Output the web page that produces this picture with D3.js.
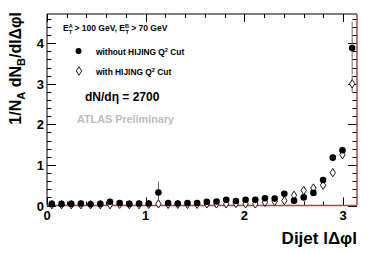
<!DOCTYPE html>
<html>
<head>
<meta charset="utf-8">
<script src="https://cdn.jsdelivr.net/npm/d3@7"></script>
<style>
    body { margin: 0; background: #fff; }
    text { font-family: "Liberation Sans", Arial, Helvetica, sans-serif; font-weight: bold; }
</style>
</head>
<body>
<script>
(function() {
    "use strict";

    //32 bins in |dphi| from 0 to pi
    var NBINS = 32;
    var binCenters = d3.range(NBINS).map(function(i) { return (i + 0.5) * Math.PI / NBINS; });

    //without HIJING Q2 cut (filled circles)
    var withoutCut = [0.04, 0.04, 0.04, 0.05, 0.03, 0.04, 0.09, 0.06, 0.04, 0.05, 0.05, 0.32,
                      0.06, 0.05, 0.06, 0.06, 0.09, 0.10, 0.14, 0.11, 0.14, 0.14, 0.18, 0.17,
                      0.29, 0.12, 0.20, 0.31, 0.63, 1.18, 1.36, 3.88];
    var withoutCutErr = [0.02, 0.02, 0.02, 0.02, 0.02, 0.02, 0.03, 0.02, 0.02, 0.02, 0.02, 0.27,
                         0.02, 0.02, 0.02, 0.02, 0.02, 0.02, 0.03, 0.02, 0.03, 0.03, 0.03, 0.03,
                         0.04, 0.03, 0.04, 0.05, 0.06, 0.08, 0.09, 0.65];

    //with HIJING Q2 cut (open diamonds)
    var withCut = [0.02, 0.02, 0.02, 0.02, 0.02, 0.02, 0.02, 0.03, 0.02, 0.02, 0.03, 0.04,
                   0.03, 0.03, 0.03, 0.03, 0.04, 0.04, 0.04, 0.05, 0.04, 0.04, 0.08, 0.10,
                   0.12, 0.25, 0.37, 0.43, 0.50, 0.81, 1.25, 3.00];
    var withCutErr = [0.01, 0.01, 0.01, 0.01, 0.01, 0.01, 0.01, 0.01, 0.01, 0.01, 0.01, 0.02,
                      0.01, 0.01, 0.01, 0.01, 0.02, 0.02, 0.02, 0.02, 0.02, 0.02, 0.02, 0.03,
                      0.03, 0.04, 0.04, 0.05, 0.05, 0.06, 0.08, 0.20];

    var xTickLabels = [0, 1, 2, 3];
    var yTickLabels = [0, 1, 2, 3, 4];

    var WIDTH = 374, HEIGHT = 253;
    var FRAME_COLOR = "#9a4f4a";

    //plot frame in pixels
    var left = 47, right = 357, top = 14, bottom = 205.5;

    var x = d3.scaleLinear().domain([0, Math.PI]).range([left, right]);
    var y = d3.scaleLinear().domain([0, 4.72]).range([bottom, top]);

    var svg = d3.select("body").append("svg")
        .attr("width", WIDTH)
        .attr("height", HEIGHT);

    //ticks pointing inward on all four sides, ROOT style
    var xMinor = d3.range(0, 3.15, 0.2);
    var yMinor = d3.range(0, 4.7, 0.2);

    var ticks = svg.append("g").attr("stroke", "#000").attr("stroke-width", 1);
    xMinor.forEach(function(v) {
        var major = Math.abs(v - Math.round(v)) < 1e-6;
        var len = major ? 8 : 4;
        var px = Math.round(x(v)) + 0.5;
        ticks.append("line").attr("x1", px).attr("x2", px).attr("y1", bottom).attr("y2", bottom - len);
        ticks.append("line").attr("x1", px).attr("x2", px).attr("y1", top).attr("y2", top + len);
    });
    yMinor.forEach(function(v) {
        var major = Math.abs(v - Math.round(v)) < 1e-6;
        var len = major ? 9 : 4.5;
        var py = Math.round(y(v)) + 0.5;
        ticks.append("line").attr("x1", left).attr("x2", left + len).attr("y1", py).attr("y2", py);
        ticks.append("line").attr("x1", right).attr("x2", right - len).attr("y1", py).attr("y2", py);
    });

    //frame lines
    svg.append("line").attr("x1", left).attr("x2", left).attr("y1", top).attr("y2", bottom)
        .attr("stroke", "#000");
    svg.append("line").attr("x1", left).attr("x2", right).attr("y1", top).attr("y2", top)
        .attr("stroke", "#000");
    svg.append("line").attr("x1", right).attr("x2", right).attr("y1", top).attr("y2", bottom)
        .attr("stroke", FRAME_COLOR).attr("stroke-width", 1.5);
    svg.append("line").attr("x1", left).attr("x2", right).attr("y1", bottom).attr("y2", bottom)
        .attr("stroke", FRAME_COLOR).attr("stroke-width", 1.5);

    //tick labels
    svg.selectAll("text.xlab")
        .data(xTickLabels)
        .enter()
        .append("text")
        .attr("class", "xlab")
        .attr("x", function(d) { return x(d); })
        .attr("y", bottom + 14)
        .attr("text-anchor", "middle")
        .attr("font-size", 13)
        .text(function(d) { return d; });

    svg.selectAll("text.ylab")
        .data(yTickLabels)
        .enter()
        .append("text")
        .attr("class", "ylab")
        .attr("x", left - 3)
        .attr("y", function(d) { return y(d) + 5; })
        .attr("text-anchor", "end")
        .attr("font-size", 13)
        .text(function(d) { return d; });

    //axis titles
    var xTitle = svg.append("text")
        .attr("x", right)
        .attr("y", 244)
        .attr("text-anchor", "end")
        .attr("font-size", 17);
    xTitle.append("tspan").text("Dijet l\u0394\u03c6l");

    var yTitle = svg.append("text")
        .attr("transform", "translate(21," + (top - 2) + ") rotate(-90)")
        .attr("text-anchor", "end")
        .attr("font-size", 16);
    yTitle.append("tspan").text("1/N");
    yTitle.append("tspan").attr("font-size", 11).attr("dy", 4).text("A");
    yTitle.append("tspan").attr("dy", -4).text(" dN");
    yTitle.append("tspan").attr("font-size", 11).attr("dy", 4).text("B");
    yTitle.append("tspan").attr("dy", -4).text("/dl\u0394\u03c6l");

    //error bars
    function drawErrors(values, errors, cls) {
        svg.selectAll("line." + cls)
            .data(values)
            .enter()
            .append("line")
            .attr("class", cls)
            .attr("x1", function(d, i) { return x(binCenters[i]); })
            .attr("x2", function(d, i) { return x(binCenters[i]); })
            .attr("y1", function(d, i) { return y(d + errors[i]); })
            .attr("y2", function(d, i) { return y(Math.max(0, d - errors[i])); })
            .attr("stroke", "#666")
            .attr("stroke-width", 1);
    }
    drawErrors(withCut, withCutErr, "errWith");
    drawErrors(withoutCut, withoutCutErr, "errWithout");

    //open diamonds
    var diamond = "M0,-4.2L2.7,0L0,4.2L-2.7,0Z";
    svg.selectAll("path.withCut")
        .data(withCut)
        .enter()
        .append("path")
        .attr("class", "withCut")
        .attr("d", diamond)
        .attr("transform", function(d, i) { return "translate(" + x(binCenters[i]) + "," + y(d) + ")"; })
        .attr("fill", "#fff")
        .attr("stroke", "#000")
        .attr("stroke-width", 0.9);

    //filled circles
    svg.selectAll("circle.withoutCut")
        .data(withoutCut)
        .enter()
        .append("circle")
        .attr("class", "withoutCut")
        .attr("cx", function(d, i) { return x(binCenters[i]); })
        .attr("cy", function(d) { return y(d); })
        .attr("r", 3.3)
        .attr("fill", "#000");

    //legend and labels
    var cuts = svg.append("text").attr("x", 63).attr("y", 31).attr("font-size", 8.5);
    cuts.append("tspan").text("E");
    cuts.append("tspan").attr("font-size", 5.5).attr("dy", -3.5).text("A");
    cuts.append("tspan").attr("font-size", 5.5).attr("dx", -3.5).attr("dy", 6).text("T");
    cuts.append("tspan").attr("dy", -2.5).text(" > 100 GeV, E");
    cuts.append("tspan").attr("font-size", 5.5).attr("dy", -3.5).text("B");
    cuts.append("tspan").attr("font-size", 5.5).attr("dx", -3.5).attr("dy", 6).text("T");
    cuts.append("tspan").attr("dy", -2.5).text(" > 70 GeV");

    svg.append("circle").attr("cx", 78.5).attr("cy", 51).attr("r", 3).attr("fill", "#000");
    var l1 = svg.append("text").attr("x", 96).attr("y", 55).attr("font-size", 8.4);
    l1.append("tspan").text("without HIJING Q");
    l1.append("tspan").attr("font-size", 5.5).attr("dy", -3.5).text("2");
    l1.append("tspan").attr("dy", 3.5).text(" Cut");

    svg.append("path").attr("d", diamond)
        .attr("transform", "translate(79,71)")
        .attr("fill", "#fff").attr("stroke", "#000").attr("stroke-width", 0.9);
    var l2 = svg.append("text").attr("x", 96).attr("y", 75).attr("font-size", 8.4);
    l2.append("tspan").text("with HIJING Q");
    l2.append("tspan").attr("font-size", 5.5).attr("dy", -3.5).text("2");
    l2.append("tspan").attr("dy", 3.5).text(" Cut");

    svg.append("text").attr("x", 85).attr("y", 101).attr("font-size", 12)
        .text("dN/d\u03b7 = 2700");

    svg.append("text").attr("x", 77).attr("y", 123).attr("font-size", 10.8)
        .attr("fill", "#bdbdbd")
        .text("ATLAS Preliminary");
}());
</script>
</body>
</html>
